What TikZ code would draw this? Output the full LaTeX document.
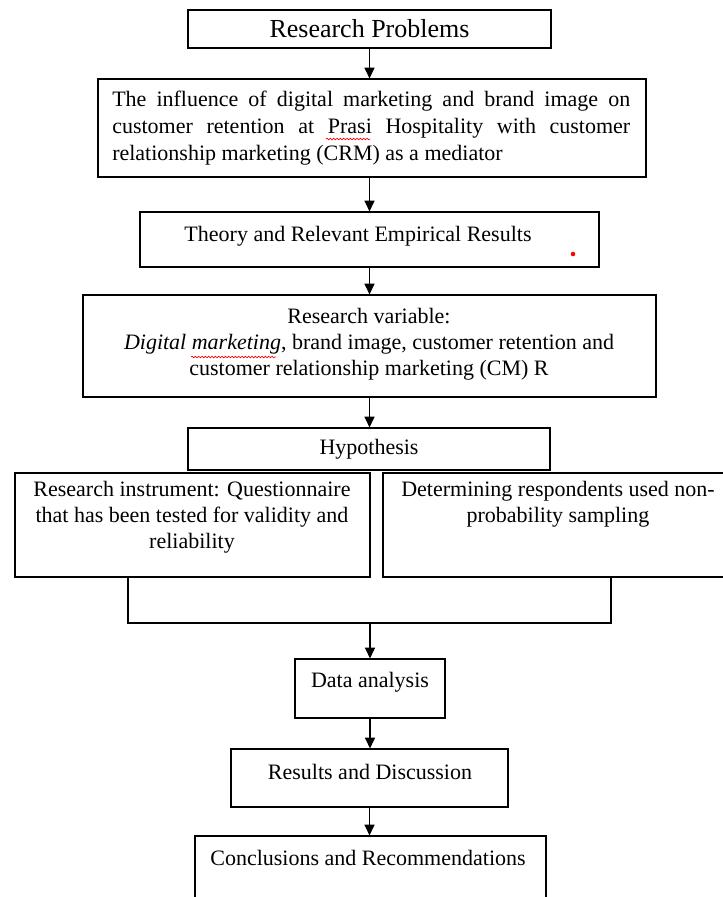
\documentclass[tikz,border=0pt]{standalone}
\usepackage{fontspec}
\setmainfont{Liberation Serif}
\usetikzlibrary{arrows.meta,fit,decorations.pathmorphing}
\begin{document}
\begin{tikzpicture}[x=0.75pt,y=-0.75pt,
  box/.style={draw, line width=0.9pt, inner sep=0pt},
  txt/.style={font=\fontsize{16.5}{19.5}\selectfont, inner sep=0pt, align=center},
  arr/.style={line width=0.9pt, -{Triangle[length=8pt,width=7.5pt]}},
  wavy/.style={red, line width=0.5pt, decorate, decoration={snake, amplitude=0.6pt, segment length=2.5pt}}]
\clip (0,0) rectangle (723,897);
% boxes
\node[box, fit={(188,10) (551,48)}] (rp) {};
\node[box, fit={(98,79) (646,177)}] (inf) {};
\node[box, fit={(140,212) (599,267)}] (thr) {};
\node[box, fit={(83,295) (656,397)}] (rv) {};
\node[box, fit={(188,428) (550,470)}] (hyp) {};
\node[box, fit={(15,473) (370,577)}] (ri) {};
\node[box, fit={(383,473) (730,577)}] (dr) {};
\node[box, fit={(295,659) (445,718)}] (da) {};
\node[box, fit={(231,749) (508,807)}] (res) {};
\node[box, fit={(195,836) (546,910)}] (con) {};
% texts
\node[txt, font=\fontsize{19.5}{23}\selectfont] (rpt) at (rp.center) {Research Problems};
\node[txt, font=\fontsize{16.5}{20.2}\selectfont, text width=388.5pt, align=justify, anchor=north west] (inft) at (112,91)
  {\hyphenpenalty=10000 The influence of digital marketing and brand image on\linebreak customer retention at Prasi Hospitality with customer\linebreak relationship marketing (CRM) as a mediator};
\node[txt] (thrt) at (358,236) {Theory and Relevant Empirical Results};
\node[txt, anchor=north] (rvt) at (369,308) {Research variable:\\\textit{Digital marketing}, brand image, customer retention and\\customer relationship marketing (CM) R};
\node[txt] (hypt) at (hyp.center) {Hypothesis};
\node[txt, anchor=north] (rit) at (192,481) {Research instrument: Questionnaire\\that has been tested for validity and\\reliability};
\node[txt, anchor=north] (drt) at (558,481) {Determining respondents used non-\\probability sampling};
\node[txt] (dat) at (370,682) {Data analysis};
\node[txt] (rest) at (370,772) {Results and Discussion};
\node[txt] (cont) at (368,858) {Conclusions and Recommendations};
% marks
\fill[red] (573,254) circle (1.7pt);
\draw[wavy] (326,139) -- (370,139);
\draw[wavy] (191,357) -- (276,357);
% connectors
\coordinate (bl) at (128,623);
\coordinate (br) at (611,623);
\draw[arr] (rp.south) -- (rp.south |- inf.north);
\draw[arr] (thr.north |- inf.south) -- (thr.north);
\draw[arr] (thr.south) -- (thr.south |- rv.north);
\draw[arr] (rv.south) -- (rv.south |- hyp.north);
\draw[line width=0.9pt] (bl |- ri.south) -- (bl) -- (br) -- (br |- dr.south);
\draw[arr] (da.north |- bl) -- (da.north);
\draw[arr] (da.south) -- (da.south |- res.north);
\draw[arr] (res.south) -- (res.south |- con.north);
\end{tikzpicture}
\end{document}
